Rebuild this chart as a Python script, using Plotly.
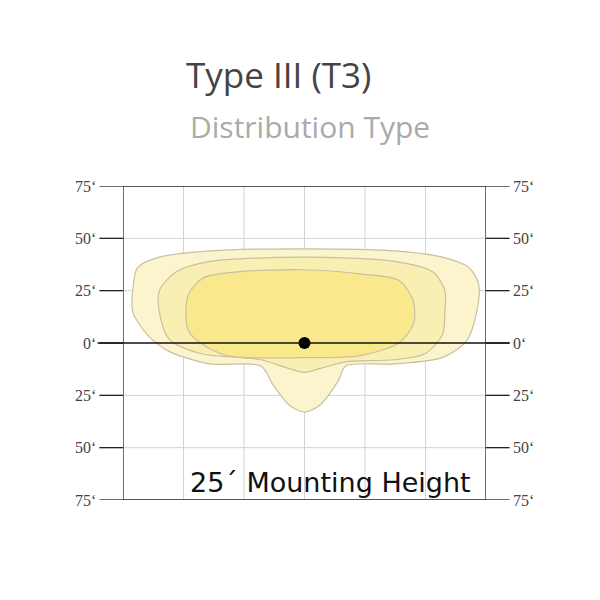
import plotly.graph_objects as go

# contours of the light pattern, in feet (x across, y along the street)
outer_x = [-71, -71, -65, -56, -39, -18, -13, -6, 0, 6, 14, 17, 37, 57, 67, 71, 72, 68, 57, 37, 0, -39, -60, -69]
outer_y = [25, 15, 4, -4, -10, -11, -20, -30, -33, -30, -18, -11, -10, -7, 1, 14, 28, 36, 41, 44, 45, 44, 41, 36]
mid_x = [-60, -60, -56, -43, -18, -7, 0, 7, 17, 37, 50, 57, 58, 58, 53, 37, 0, -39, -53]
mid_y = [25, 15, 2, -5, -8, -12, -14, -12, -9, -8, -5, 4, 15, 25, 34, 39, 41, 39, 34]
inner_x = [-49, -48, -42, -28, 0, 23, 39, 45, 45, 39, 23, 0, -32, -43, -48]
inner_y = [13, 23, 31, 34, 35, 33, 30, 20, 9, 0, -6, -7, -6, 0, 6]

tick_vals = [75, 50, 25, 0, -25, -50, -75]
tick_text = ["75‘", "50‘", "25‘", "0‘", "25‘", "50‘", "75‘"]
grid_x = [-50, -25, 0, 25, 50]

fig = go.Figure()
for xs, ys, col in [(outer_x, outer_y, "#fbf4cc"), (mid_x, mid_y, "#faefb2"), (inner_x, inner_y, "#fae98c")]:
    fig.add_trace(go.Scatter(x=xs + xs[:1], y=ys + ys[:1], mode="lines", fill="toself",
                             fillcolor=col, line=dict(color="#c8c0a0", width=1.2, shape="spline", smoothing=0.8),
                             hoverinfo="skip", showlegend=False))
# centre pole
fig.add_trace(go.Scatter(x=[0], y=[0], mode="markers", marker=dict(color="black", size=12), showlegend=False))

shapes = []
for gx in grid_x:
    shapes.append(dict(type="line", xref="x", yref="y", x0=gx, x1=gx, y0=-75, y1=75,
                       line=dict(color="#d4d4d4", width=1), layer="below"))
for v in [50, 25, -25, -50]:
    shapes.append(dict(type="line", xref="x", yref="y", x0=-75, x1=75, y0=v, y1=v,
                       line=dict(color="#d4d4d4", width=1), layer="below"))
# frame
shapes.append(dict(type="rect", xref="x", yref="y", x0=-75, x1=75, y0=-75, y1=75, line=dict(color="#222", width=1.3)))
# tick dashes outside the frame
for v in tick_vals:
    shapes.append(dict(type="line", xref="paper", yref="y", x0=-0.065, x1=0, y0=v, y1=v, line=dict(color="#222", width=1.3)))
    shapes.append(dict(type="line", xref="paper", yref="y", x0=1, x1=1.065, y0=v, y1=v, line=dict(color="#222", width=1.3)))
shapes.append(dict(type="line", xref="paper", yref="y", x0=-0.07, x1=1.065, y0=0, y1=0, line=dict(color="#111", width=1.5)))

ann = []
for v, t in zip(tick_vals, tick_text):
    ann.append(dict(xref="paper", yref="y", x=-0.07, y=v, text=t, xanchor="right", showarrow=False,
                    font=dict(family="Liberation Serif", size=16, color="#444")))
    ann.append(dict(xref="paper", yref="y", x=1.07, y=v, text=t, xanchor="left", showarrow=False,
                    font=dict(family="Liberation Serif", size=16, color="#444")))
ann.append(dict(xref="paper", yref="paper", x=0.965, y=0.0, yanchor="bottom", xanchor="right",
                text="25´ Mounting Height", showarrow=False,
                font=dict(family="DejaVu Sans", size=27, color="#111")))
ann.append(dict(xref="paper", yref="paper", x=(278 - 123) / 363, y=1 + (186 - 75) / 314, yanchor="middle",
                text="Type III (T3)", showarrow=False, font=dict(family="Open Sans", size=35, color="#444")))
ann.append(dict(xref="paper", yref="paper", x=(310 - 123) / 363, y=1 + (186 - 126) / 314, yanchor="middle",
                text="Distribution Type", showarrow=False, font=dict(family="Open Sans", size=30, color="#aaa")))

fig.update_layout(width=600, height=600, margin=dict(l=115, r=122, t=178, b=108),
                  plot_bgcolor="white", paper_bgcolor="white", shapes=shapes, annotations=ann,
                  xaxis=dict(range=[-75, 75], visible=False, fixedrange=True),
                  yaxis=dict(range=[-75, 75], visible=False, fixedrange=True))
fig.write_html("out.html")
